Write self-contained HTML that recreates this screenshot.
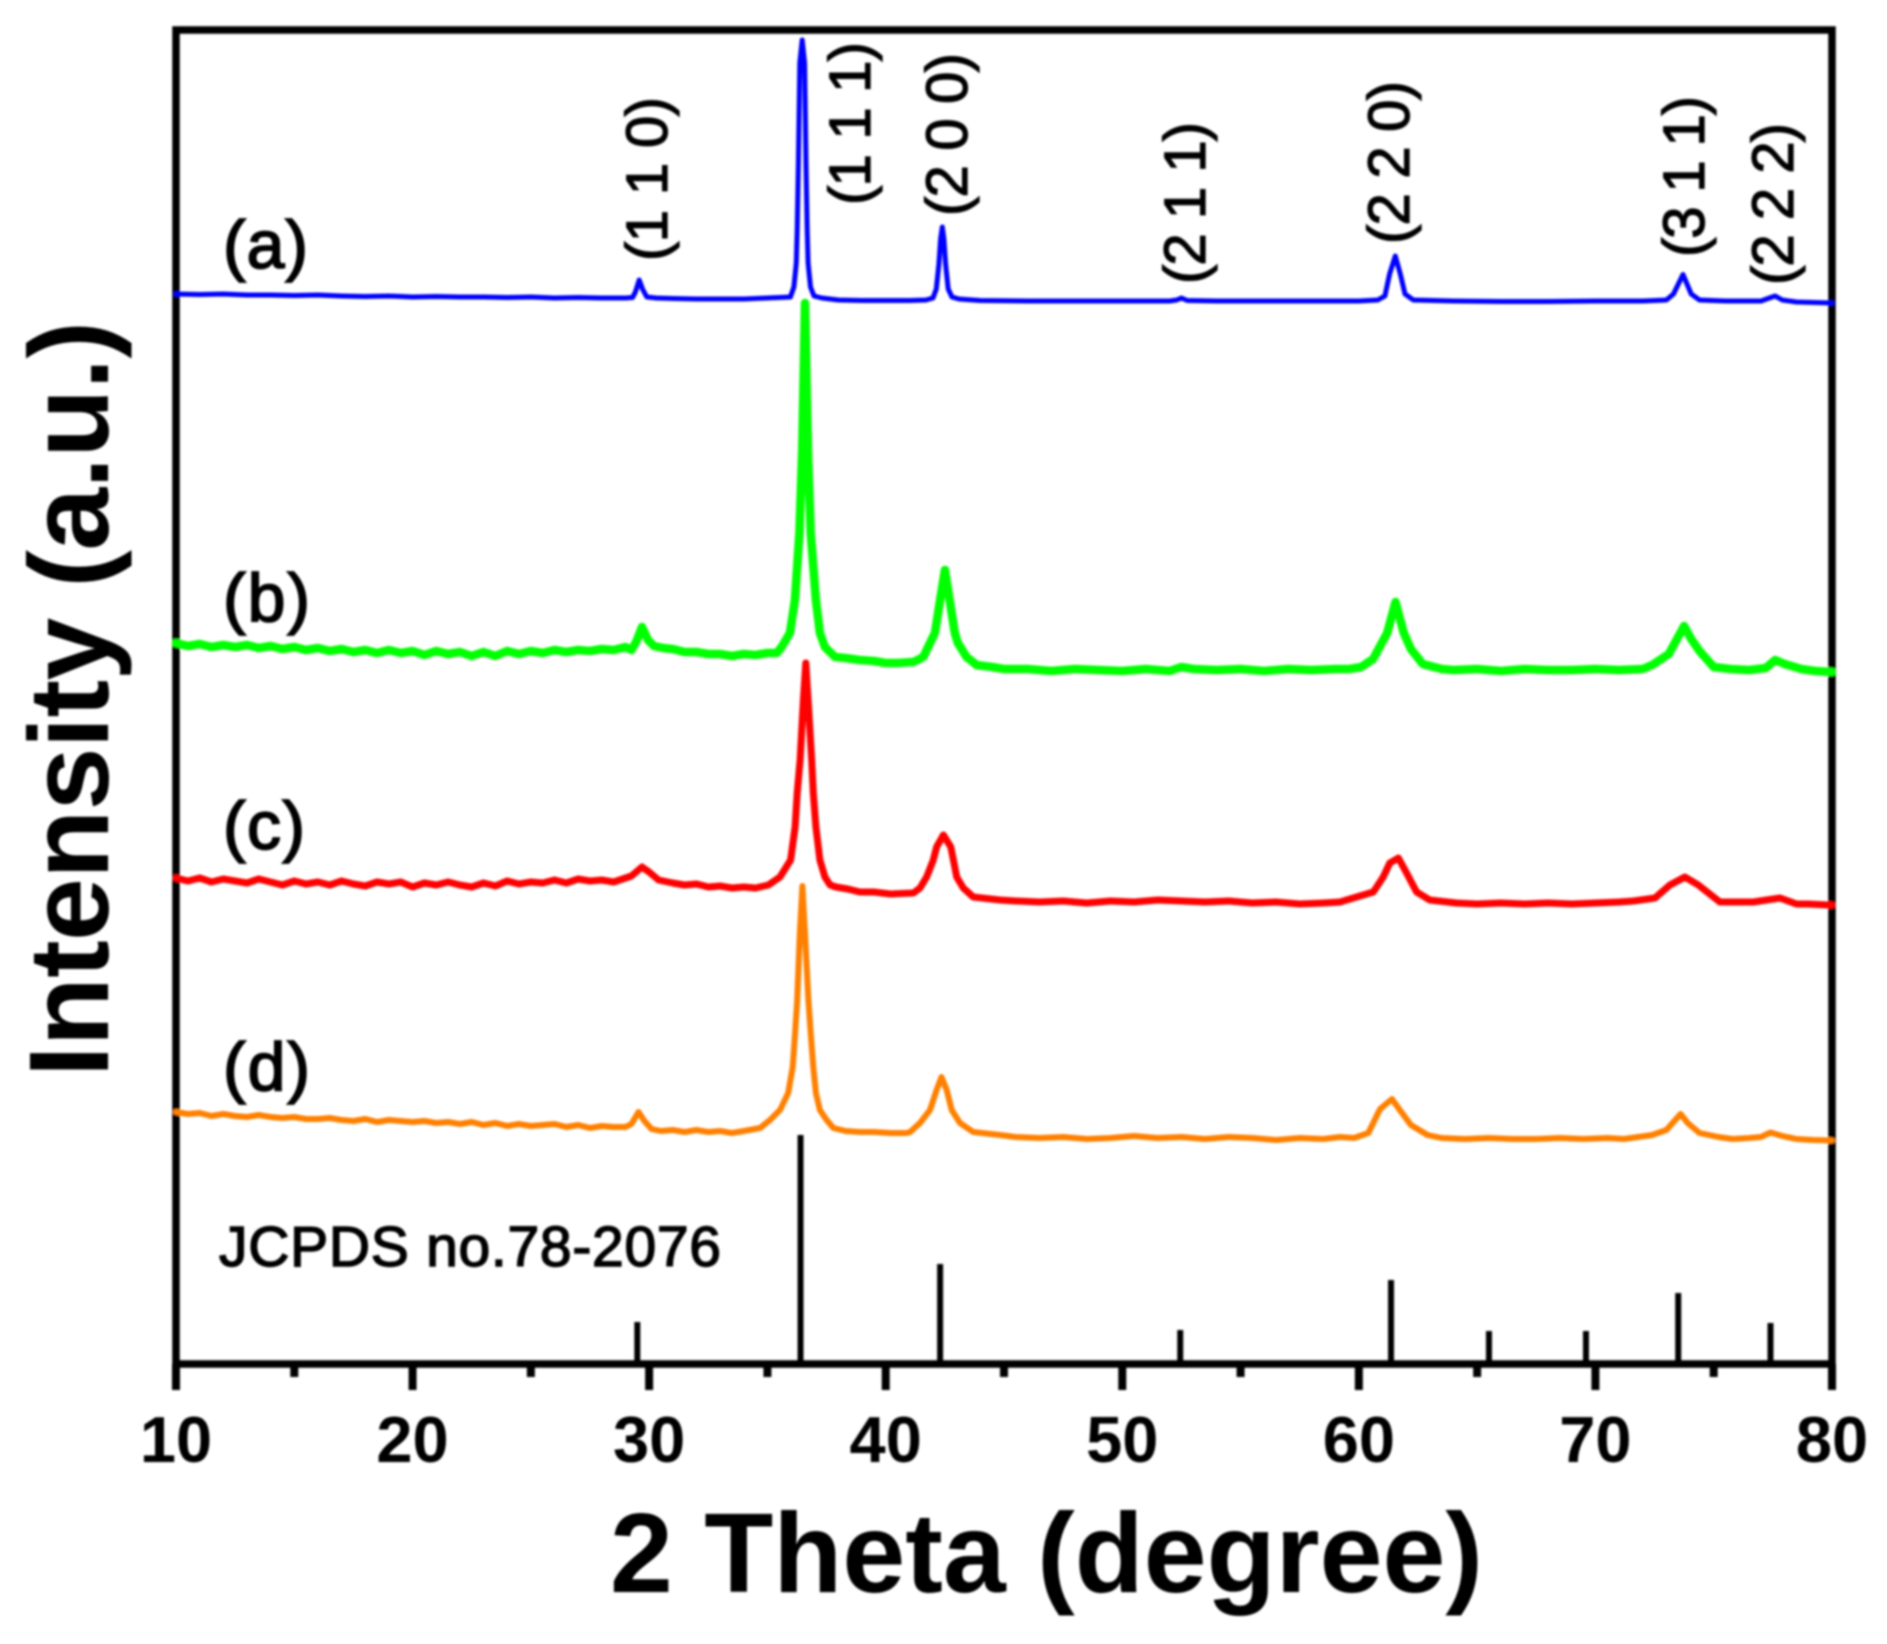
<!DOCTYPE html>
<html lang="en">
<head>
<meta charset="utf-8">
<title>XRD patterns</title>
<style>
html,body{margin:0;padding:0;background:#fff;}
svg{display:block;}
text{font-family:"Liberation Sans",Arial,sans-serif;fill:#000;}
.sample{font-size:68px;stroke:#000;stroke-width:1.8px;}
.hkl{font-size:58px;stroke:#000;stroke-width:1.3px;}
.tick{font-size:65px;font-weight:bold;text-anchor:middle;}
.title{font-size:113px;font-weight:bold;}
</style>
</head>
<body>
<svg id="chart" width="1887" height="1644" viewBox="0 0 1887 1644" xmlns="http://www.w3.org/2000/svg">
<defs><filter id="soft" x="-2%" y="-2%" width="104%" height="104%"><feGaussianBlur stdDeviation="1.1"/></filter></defs>
<g id="root" filter="url(#soft)">
<rect x="176" y="30" width="1656" height="1334" fill="none" stroke="#000" stroke-width="7.5"/>
<g id="ticks"></g>
<g id="sticks"></g>
<g id="series"></g>
<text class="title" transform="translate(108,1077) rotate(-90)" textLength="756">Intensity (a.u.)</text>
<text class="title" x="610" y="1592" textLength="873">2 Theta (degree)</text>
<text class="sample" x="223" y="268" textLength="85">(a)</text>
<text class="sample" x="223" y="621" textLength="87">(b)</text>
<text class="sample" x="223" y="849" textLength="82">(c)</text>
<text class="sample" x="223" y="1090" textLength="87">(d)</text>
<text x="219" y="1266" font-size="57" stroke="#000" stroke-width="1.5" textLength="502">JCPDS no.78-2076</text>
<text class="hkl" transform="translate(667,261) rotate(-90)" textLength="164">(1 1 0)</text>
<text class="hkl" transform="translate(870,205) rotate(-90)" textLength="163">(1 1 1)</text>
<text class="hkl" transform="translate(967,216) rotate(-90)" textLength="163">(2 0 0)</text>
<text class="hkl" transform="translate(1205,284) rotate(-90)" textLength="162">(2 1 1)</text>
<text class="hkl" transform="translate(1409,244) rotate(-90)" textLength="163">(2 2 0)</text>
<text class="hkl" transform="translate(1704,257) rotate(-90)" textLength="161">(3 1 1)</text>
<text class="hkl" transform="translate(1793,285) rotate(-90)" textLength="162">(2 2 2)</text>
</g>
</svg>
<script>
const majorTicks = [10,20,30,40,50,60,70,80];
const minorTicks = [15,25,35,45,55,65,75];

const stickAngles = [29.5,36.4,42.3,52.45,61.36,65.5,69.6,73.5,77.4];
const stickHeights = [42,229,100,34,84,33,33,71,41];

const blueX = [
10,11,12,13,14,15,16,17,18,19,
20,21,22,23,24,25,26,27,28,29,
29.3,29.42,29.58,29.72,29.9,30.3,31,32,33,34,
35,35.5,35.97,36.12,36.22,36.26,36.31,36.37,36.47,36.57,
36.63,36.68,36.72,36.82,36.97,37.3,38,39,40,41,
41.7,42,42.14,42.25,42.32,42.39,42.46,42.53,42.64,42.8,
43.1,44,46,48,50,52,52.3,52.5,52.75,54,
56,58,60,60.8,61.1,61.3,61.54,61.75,61.95,62.3,
64,66,68,70,72,73,73.3,73.7,74.05,74.4,
75.5,77,77.35,77.6,77.9,78.5,80];
const blueV = [
1070,1069.5,1070,1069,1069,1068.5,1069,1068,1067.5,1068,
1067,1067.5,1067,1067,1066.5,1067,1066,1066.5,1066,1066,
1066.5,1072,1084,1075,1067,1066,1065.5,1065,1065,1065,
1066,1066.5,1067,1077,1101,1134,1201,1301,1324,1301,
1201,1134,1101,1077,1068,1066,1064,1063.5,1063.5,1063.5,
1064,1066,1075,1100,1125,1137,1125,1100,1075,1067,
1065,1063.5,1063,1063,1063,1063,1064,1066,1063.5,1063,
1063,1063,1063,1064,1068,1090,1108,1090,1070,1064,
1063,1062.5,1062.5,1063,1063,1064,1070,1089.5,1070,1064,
1063,1063,1066,1068,1064,1062,1061];

const greenX = [
10,10.5,11,11.5,12,12.5,13,13.5,14,14.5,
15,15.5,16,16.5,17,17.5,18,18.5,19,19.5,
20,20.5,21,21.5,22,22.5,23,23.5,24,24.5,
25,25.5,26,26.5,27,27.5,28,28.5,29,29.25,
29.45,29.7,29.95,30.2,30.6,31,31.5,32,32.5,33,
33.5,34,34.5,35,35.4,35.6,35.95,36.16,36.35,36.47,
36.59,36.71,36.83,37.05,37.22,37.43,37.86,38.3,38.9,39.5,
40,40.5,41.17,41.59,41.87,42.08,42.3,42.5,42.7,42.92,
43.05,43.42,43.84,44.5,45,46,47,48,49,50,
51,52,52.5,53,54,55,56,57,58,59,
59.6,60.1,60.6,61.2,61.55,61.9,62.2,62.7,63.5,64,
65,66,67,68,69,70,71,72,72.4,73.1,
73.45,73.75,74.05,74.4,75,75.7,76.5,77.2,77.6,78,
78.7,79.3,80];
const greenV = [
721,718,720,717,719,717,719,716,718,715,
717,714,716,713,715,712,714,711,714,711,
713,709,713,710,712,708,712,708,713,710,
713,711,714,712,714,713,715,714,717,714,
722,737,724,718,716,715,712,712,710,710,
708,710,709,711,711,717,731,764,831,914,
1061,914,831,764,731,717,707,706,704,703,
701,701,702,707,721,731,764,794,764,731,
721,707,699,697,695,695,693,695,694,693,
695,693,697,695,694,695,693,695,694,695,
695,697,705,731,762,731,715,700,695,694,
695,693,695,694,694,695,694,695,699,710,
725,738,725,713,697,695,694,696,704,700,
695,693,692];

const redX = [
10,10.5,11,11.5,12,12.5,13,13.5,14,14.5,
15,15.5,16,16.5,17,17.5,18,18.5,19,19.5,
20,20.5,21,21.5,22,22.5,23,23.5,24,24.5,
25,25.5,26,26.5,27,27.5,28,28.5,29,29.25,
29.7,30,30.4,31,31.5,32,32.5,33,33.5,34,
34.5,35.04,35.53,35.98,36.17,36.26,36.38,36.52,36.62,36.72,
36.87,36.94,37.05,37.22,37.43,37.65,37.9,38.4,38.91,39.5,
40.2,41.17,41.45,41.73,42.01,42.15,42.44,42.75,42.86,43,
43.28,43.7,44.83,45.5,46.5,47.5,48.5,49.5,50.5,51.5,
52.5,53.5,54.5,55.5,56.5,57.5,58.5,59.2,60.61,61.03,
61.31,61.67,62.02,62.44,63,64.13,65,66,67,68,
69,70,71,71.6,72.52,73.15,73.78,74.35,75.26,76,
76.67,76.95,77.8,78.5,79,79.84,80];
const redV = [
486,483,486,482,485,483,481,485,482,479,
483,480,482,479,483,480,478,482,480,482,
477,481,479,482,479,477,481,478,483,480,
482,481,484,481,485,483,484,482,486,488,
497,492,484,481,479,480,477,478,476,477,
476,479,487,504,537,571,604,664,701,664,
604,571,537,504,487,479,477,475,472,472,
470,471,476,487,504,517,529,517,504,487,
476,467,464,463,462,463,461,463,462,464,
463,462,463,461,462,460,461,462,472,487,
501,506,491,472,464,461,460,461,460,461,
460,461,462,463,466,479,487,479,462,462,
462,463,466,460,460,459,459];

const orangeX = [
10,10.5,11,11.5,12,12.5,13,13.5,14,14.5,
15,15.5,16,16.5,17,17.5,18,18.5,19,19.5,
20,20.5,21,21.5,22,22.5,23,23.5,24,24.5,
25,25.5,26,26.5,27,27.5,28,28.5,29,29.25,
29.55,29.8,30.1,30.5,31,31.5,32,32.5,33,33.5,
34,34.69,35.11,35.53,35.88,36.07,36.17,36.26,36.37,36.48,
36.59,36.73,36.83,36.94,37.05,37.22,37.5,37.79,38.3,38.91,
39.5,40.2,40.89,41.03,41.45,41.87,42.15,42.36,42.58,42.79,
43.14,43.7,44.83,45.5,46.5,47.5,48.5,49.5,50.5,51.5,
52.5,53.5,54.5,55.5,56.5,57.5,58.5,59.2,59.8,60.4,
60.9,61.4,61.7,62.2,62.9,63.5,64.5,65.5,66.5,67.5,
68.5,69.5,70.5,71.2,71.8,72.4,73,73.6,73.9,74.4,
75.2,75.8,76.5,77,77.4,77.9,78.5,79.2,80];
const orangeV = [
252,250,251,248,250,248,247,249,247,246,
247,245,245,246,244,243,245,242,244,243,
242,243,241,242,240,242,239,241,238,240,
238,239,240,237,239,236,238,237,237,240,
252,243,235,233,234,232,234,232,233,231,
233,236,244,254,271,297,331,364,430,478,
430,364,331,297,271,254,244,236,233,232,
232,231,231,232,241,254,274,287,274,254,
241,232,229,227,226,227,225,226,228,226,
227,225,227,226,224,226,225,227,226,231,
255,265,255,239,229,226,225,226,225,225,
226,225,226,225,227,229,234,250,241,231,
227,225,226,227,231.5,228,225,224,223.5];

const seriesList = [
  {key:'a', color:'#0000ff', width:5, xs:blueX, vs:blueV},
  {key:'b', color:'#00ff00', width:8.5, xs:greenX, vs:greenV},
  {key:'c', color:'#ff0000', width:7, xs:redX, vs:redV},
  {key:'d', color:'#ff8000', width:6, xs:orangeX, vs:orangeV}
];

const NS = 'http://www.w3.org/2000/svg';
const sx = x => 176 + (x - 10) * (1832 - 176) / 70;
const sy = v => 1364 - v;

function mk(tag, parent, attrs){
  const el = document.createElementNS(NS, tag);
  for (const k in attrs) el.setAttribute(k, attrs[k]);
  parent.appendChild(el);
  return el;
}

const ticksG = document.getElementById('ticks');
majorTicks.forEach(t => {
  const l = mk('line', ticksG, {x1:sx(t), x2:sx(t), y1:1364, y2:1390, stroke:'#000', 'stroke-width':8});
  
  
  const label = mk('text', ticksG, {x:sx(t), y:1462, class:'tick'});
  label.textContent = t;
  
  
});
minorTicks.forEach(t => {
  const l = mk('line', ticksG, {x1:sx(t), x2:sx(t), y1:1364, y2:1377, stroke:'#000', 'stroke-width':8});
  
  
});

const sticksG = document.getElementById('sticks');
stickAngles.forEach((a, i) => {
  const l = mk('line', sticksG, {x1:sx(a), x2:sx(a), y1:sy(0), y2:sy(stickHeights[i]), stroke:'#000', 'stroke-width':6});
  
  
});

const seriesG = document.getElementById('series');
seriesList.forEach(s => {
  const pts = s.xs.map((x, i) => sx(x).toFixed(1) + ',' + sy(s.vs[i]).toFixed(1)).join(' ');
  const p = mk('polyline', seriesG, {points:pts, fill:'none', stroke:s.color, 'stroke-width':s.width, 'stroke-linejoin':'round', 'stroke-linecap':'round'});
  
  
});
</script>
</body>
</html>
